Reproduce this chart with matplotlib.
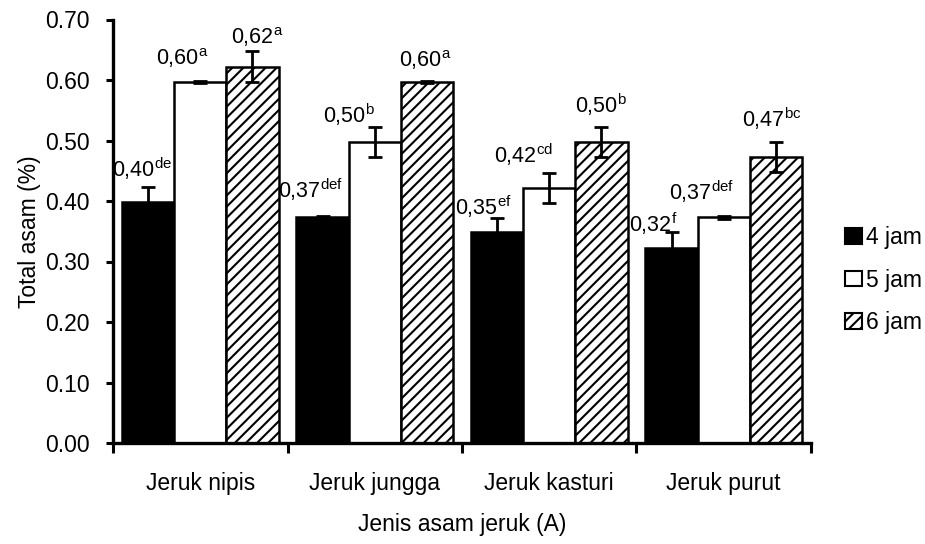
import matplotlib
matplotlib.use("Agg")
import matplotlib.pyplot as plt
import numpy as np

# ---- data ----
categories = ["Jeruk nipis", "Jeruk jungga", "Jeruk kasturi", "Jeruk purut"]
series_names = ["4 jam", "5 jam", "6 jam"]
values_4jam = [0.399, 0.373, 0.348, 0.323]
values_5jam = [0.597, 0.497, 0.422, 0.373]
values_6jam = [0.622, 0.597, 0.498, 0.473]
errors_4jam = [0.024, 0.002, 0.024, 0.025]
errors_5jam = [0.002, 0.025, 0.025, 0.002]
errors_6jam = [0.026, 0.002, 0.025, 0.025]
notation_4jam = ["de", "def", "ef", "f"]
notation_5jam = ["a", "b", "cd", "def"]
notation_6jam = ["a", "a", "b", "bc"]
yticks = [0.0, 0.1, 0.2, 0.3, 0.4, 0.5, 0.6, 0.7]
ylabel = "Total asam (%)"
xlabel = "Jenis asam jeruk (A)"

# ---- layout / style (pixel offsets of data labels, dx and dy) ----
label_offsets = [
    [(-6, 25), (-12, 19), (-14, 17), (-18, 16)],
    [(-18, 17), (-26, 19), (-26, 24.5), (-22, 17)],
    [(5, 23), (-2, 15), (-1, 29), (-4, 30)],
]

FONT = ["Liberation Sans Narrow", "Liberation Sans", "DejaVu Sans"]
plt.rcParams["font.family"] = FONT
plt.rcParams["mathtext.fontset"] = "custom"
plt.rcParams["mathtext.rm"] = "Liberation Sans"
plt.rcParams["mathtext.it"] = "Liberation Sans"
plt.rcParams["mathtext.default"] = "regular"
plt.rcParams["hatch.linewidth"] = 1.5
FS = 16.5
LFS = 15.5

fig = plt.figure(figsize=(9.25, 5.44), dpi=100)
ax = fig.add_axes([113 / 925, 1 - 443 / 544, (811 - 113) / 925, (443 - 19.5) / 544])

x = np.arange(len(categories)) + 0.5
bw = 0.299
series = [values_4jam, values_5jam, values_6jam]
errs = [errors_4jam, errors_5jam, errors_6jam]
notes = [notation_4jam, notation_5jam, notation_6jam]
faces = ["black", "white", "white"]
hatches = [None, None, "///"]

for k in range(3):
    xs = x + (k - 1) * bw
    ax.bar(xs, series[k], width=bw, color=faces[k], edgecolor="black",
           linewidth=1.8, hatch=hatches[k], label=series_names[k], zorder=2)
    ax.errorbar(xs, series[k], yerr=errs[k], fmt="none", ecolor="black",
                elinewidth=2.0, capsize=5, capthick=2.0, zorder=3)
    for i in range(len(categories)):
        txt = f"{series[k][i]:.2f}".replace(".", ",") + "$^{" + notes[k][i] + "}$"
        dx, dy = label_offsets[k][i]
        ax.annotate(txt, (xs[i], series[k][i]), xytext=(dx, dy),
                    textcoords="offset pixels", ha="center", va="baseline",
                    fontsize=LFS, zorder=4)

ax.set_xlim(0, len(categories))
ax.set_ylim(0, 0.70)
ax.set_yticks(yticks)
ax.set_yticklabels([f"{t:.2f}" for t in yticks])
ax.set_xticks(x)
ax.set_xticklabels(categories)
ax.set_xticks(np.arange(len(categories) + 1), minor=True)
ax.tick_params(axis="x", which="major", length=0, pad=21, labelsize=FS)
ax.tick_params(axis="x", which="minor", length=7, width=2.2, direction="out")
ax.tick_params(axis="y", length=5, width=2.2, direction="out", pad=12, labelsize=FS)

for s in ["top", "right"]:
    ax.spines[s].set_visible(False)
for s in ["left", "bottom"]:
    ax.spines[s].set_linewidth(2.4)

ax.set_ylabel(ylabel, fontsize=FS, labelpad=3)
ax.set_xlabel(xlabel, fontsize=FS, labelpad=13)

leg = fig.legend(loc="center left", bbox_to_anchor=(845 / 925, 1 - 280 / 544),
                 frameon=False, fontsize=FS, handlelength=0.75, handleheight=0.65,
                 handletextpad=0.15, labelspacing=0.85, borderpad=0,
                 borderaxespad=0)
for h in leg.legend_handles:
    h.set_linewidth(1.5)

fig.savefig("out.png", dpi=100)
